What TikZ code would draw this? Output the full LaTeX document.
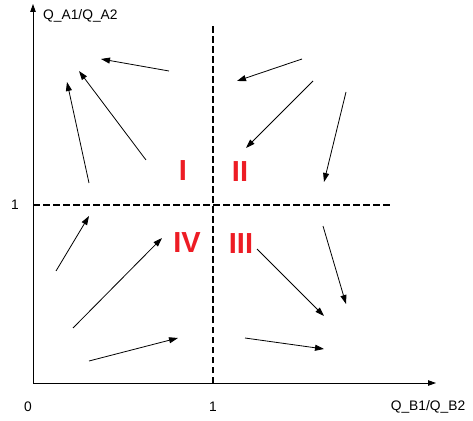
\documentclass[tikz,border=0pt]{standalone}
\usepackage{fontspec}
\setmainfont{Liberation Sans}
\usetikzlibrary{arrows.meta}
\definecolor{regionred}{RGB}{237,28,36}

\begin{document}
\begin{tikzpicture}[x=1pt,y=1pt,
    axis/.style={line width=0.9pt, -{Triangle[length=8pt,width=5.5pt]}},
    flow/.style={line width=0.8pt, -{Triangle[length=9pt,width=6pt]}},
    split/.style={line width=1.4pt, dash pattern=on 6.5pt off 3.5pt},
    lbl/.style={font=\fontsize{13.8}{15}\selectfont, inner sep=0pt},
    region/.style={font=\fontsize{29}{30}\selectfont\bfseries, text=regionred, inner sep=0pt}]
        \useasboundingbox (-33,-37) rectangle (440,383);

        % axes
        \draw[axis] (0,0) -- (0,379);
        \draw[axis] (0,0) -- (403,0);

        % dividing lines at ratio 1
        \draw[split] (180,0) -- (180,358);
        \draw[split] (0,178) -- (359,178);

        % axis labels
        \node[lbl, anchor=west] (ylab) at (10,367) {Q\_A1/Q\_A2};
        \node[lbl] (xlab) at (395,-24) {Q\_B1/Q\_B2};
        \node[lbl] (yone) at (-18,178) {1};
        \node[lbl] (zero) at (-5,-24) {0};
        \node[lbl] (xone) at (180,-24) {1};

        % regions
        \node[region] (r1) at (150,212) {I};
        \node[region] (r2) at (207,211) {II};
        \node[region] (r3) at (208,139) {III};
        \node[region] (r4) at (154,140) {IV};

        % flow arrows
        \foreach \a/\b/\c/\d in {136/312/68/324, 113/223/46/312, 56/200/34/301,
                                 269/324/204/302, 280/302/213/235, 313/291/291/201,
                                 23/112/56/167, 40/55/129/145, 56/22/145/45,
                                 290/157/313/79, 224/134/291/67, 212/45/291/34}
            \draw[flow] (\a,\b) -- (\c,\d);
\end{tikzpicture}
\end{document}
